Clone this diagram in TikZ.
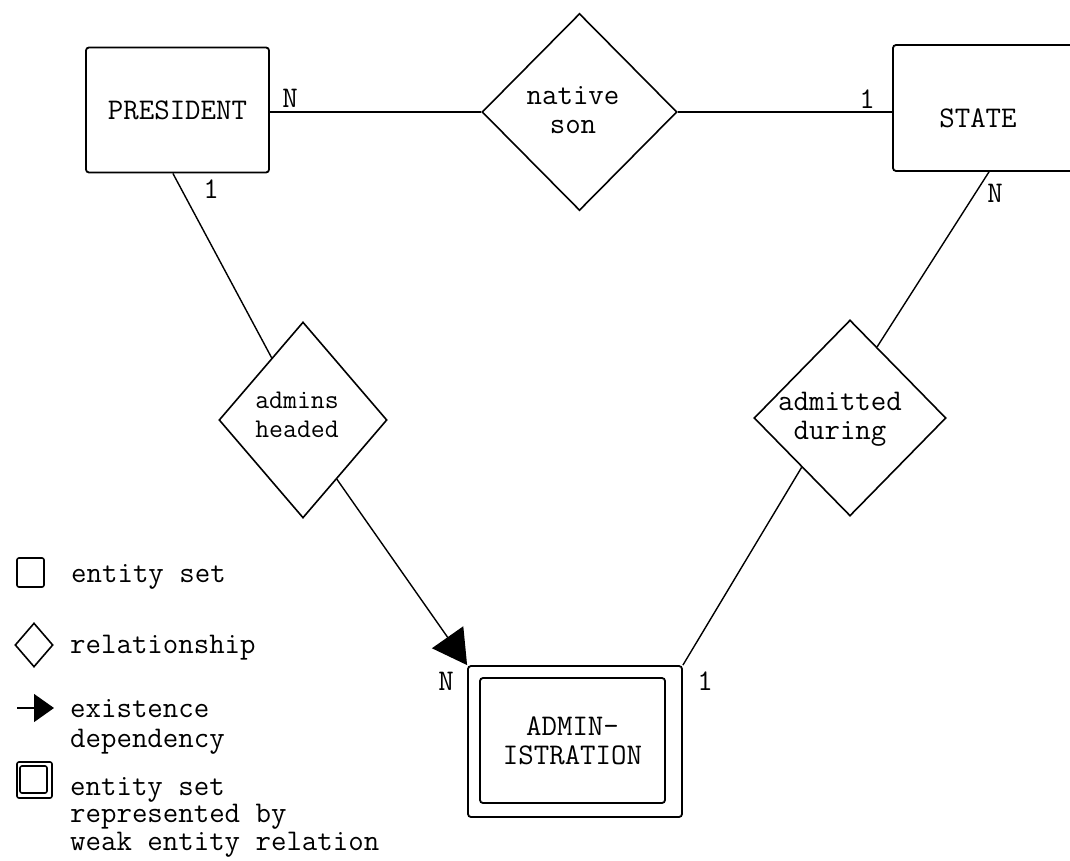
\documentclass[tikz,border=0pt]{standalone}
\usetikzlibrary{shapes.geometric,arrows.meta,calc}
\begin{document}
\begin{tikzpicture}[x=1pt,y=-1pt,
  every node/.style={font=\fontsize{30}{29}\selectfont\ttfamily, inner sep=0pt},
  entitybox/.style={draw, line width=1.8pt, rounded corners=3pt, align=center},
  relbox/.style={draw, shape=diamond, line width=1.6pt, inner sep=0pt},
  rellabel/.style={align=center},
  card/.style={},
  link/.style={line width=1.4pt},
  depend/.style={line width=1.4pt, -{Triangle[length=34pt,width=38pt]}},
  legendtext/.style={anchor=base west, align=left}]
\useasboundingbox (0,0) rectangle (1070,861);
\clip (0,0) rectangle (1070,861);

% entity sets
\node[entitybox, minimum width=183pt, minimum height=125pt] (pres) at (177.5,110) {PRESIDENT};
\node[entitybox, minimum width=190pt, minimum height=126pt] (state) at (988,108) {};
\node (state-t) at (978,118) {STATE};
\node[entitybox, minimum width=214pt, minimum height=151pt] (adm) at (575,741.5) {};
\node[entitybox, minimum width=185pt, minimum height=125pt] (adm-in) at (572.5,740.5) {ADMIN-\\ISTRATION};

% relationships
\node[relbox, minimum width=195pt, minimum height=197pt] (ns) at (579.5,112) {};
\node[rellabel] (ns-t) at (573,110) {native\\son};
\node[relbox, minimum width=168pt, minimum height=196pt] (ah) at (303,420) {};
\node[rellabel, font=\fontsize{27}{29}\selectfont\ttfamily] (ah-t) at (297,415) {admins\\headed};
\node[relbox, minimum width=192pt, minimum height=196pt] (ad) at (850,418) {};
\node[rellabel] (ad-t) at (840,419) {admitted\\during};

% connectors
\draw[link] (pres.east |- ns.west) -- (ns.west);
\draw[link] (ns.east) -- (state.west |- ns.east);
\draw[link] ($(pres.south west)!0.475!(pres.south east)$) -- ($(ah.west)!0.63!(ah.north)$);
\draw[depend] ($(ah.east)!0.6!(ah.south)$) -- (adm.north west);
\draw[link] ($(state.south west)!0.505!(state.south east)$) -- ($(ad.north)!0.28!(ad.east)$);
\draw[link] (adm.north east) -- ($(ad.west)!0.5!(ad.south)$);

% cardinalities
\node[card] (c-pres-ns) at (290,98) {N};
\node[card] (c-pres-ah) at (211,189) {1};
\node[card] (c-state-ns) at (867,99) {1};
\node[card] (c-state-ad) at (995,193) {N};
\node[card] (c-adm-ah) at (446,681) {N};
\node[card] (c-adm-ad) at (705,681) {1};

% legend (multi-line texts are placed by the baseline of their last line)
\node[draw, line width=1.6pt, rounded corners=2pt, minimum width=27pt, minimum height=29pt] (lg-ent) at (30.5,572.5) {};
\node[legendtext] (lg-ent-t) at (71,582) {entity set};
\node[relbox, minimum width=38pt, minimum height=44pt] (lg-rel) at (34,645) {};
\node[legendtext] (lg-rel-t) at (70,653) {relationship};
\coordinate (lg-dep-a) at (17,708);
\coordinate (lg-dep-b) at (54,708);
\draw[line width=1.4pt, -{Triangle[length=20pt,width=28pt]}] (lg-dep-a) -- (lg-dep-b);
\node[legendtext, font=\fontsize{30}{30}\selectfont\ttfamily] (lg-dep-t) at (70,747) {existence\\dependency};
\node[draw, line width=1.6pt, rounded corners=2pt, minimum width=35pt, minimum height=36pt] (lg-weak) at (34.5,780) {};
\node[draw, line width=1.6pt, rounded corners=2pt, minimum width=27pt, minimum height=27pt] (lg-weak-in) at (33.5,779.5) {};
\node[legendtext, font=\fontsize{30}{27.5}\selectfont\ttfamily] (lg-weak-t) at (70,850) {entity set\\represented by\\weak entity relation};
\end{tikzpicture}
\end{document}
